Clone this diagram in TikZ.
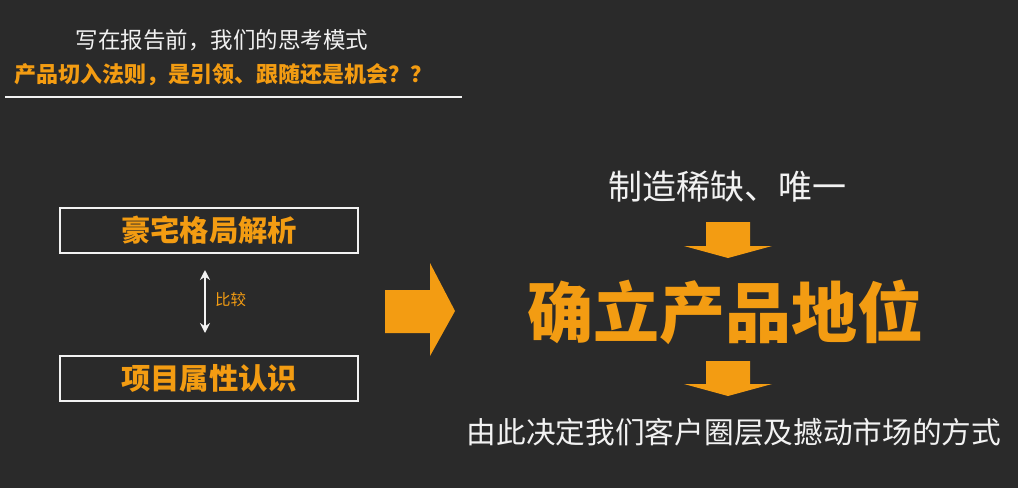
\documentclass[tikz,border=0pt]{standalone}
\usepackage{fontspec}
\newfontfamily\cjk{Noto Sans CJK SC}
\usetikzlibrary{arrows.meta}
\definecolor{bg}{HTML}{2A2A2A}
\definecolor{org}{HTML}{F39C12}
\definecolor{wt}{HTML}{F2F2F2}
\tikzset{
  txt/.style={inner sep=0pt, anchor=center},
  boxed/.style={draw=wt, line width=1.2pt, minimum width=298pt, minimum height=45pt, inner sep=0pt},
  fillarrow/.style={fill=org, draw=none},
}
\begin{document}
\begin{tikzpicture}[x=1pt,y=-1pt]
\fill[bg] (0,0) rectangle (1018,488);
\useasboundingbox (0,0) rectangle (1018,488);
% header
\node[txt, text=wt, font=\cjk\fontsize{22.5}{24}\selectfont] (t1) at (222,40) {写在报告前，我们的思考模式};
\node[txt, text=org, font=\cjk\bfseries\fontsize{22}{24}\selectfont] (t2) at (224,75) {产品切入法则，是引领、跟随还是机会？？};
\coordinate (l1) at (5,97);
\coordinate (l2) at (462,97);
\draw[wt, line width=1.3pt] (l1) -- (l2);
% left boxes
\node[boxed] (b1) at (209,230.5) {};
\node[txt, text=org, font=\cjk\bfseries\fontsize{29.3}{32}\selectfont] at (b1) {豪宅格局解析};
\node[boxed] (b2) at (209,378.5) {};
\node[txt, text=org, font=\cjk\bfseries\fontsize{29.3}{32}\selectfont] at (b2) {项目属性认识};
\coordinate (a1) at (205,270);
\coordinate (a2) at (205,333);
\draw[wt, line width=1.8pt, {Stealth[length=10pt,width=10pt]}-{Stealth[length=10pt,width=10pt]}] (a1) -- (a2);
\node[txt, text=org, font=\cjk\fontsize{15.5}{18}\selectfont, anchor=west] (cmp) at (215,300) {比较};
% big right arrow
\fill[fillarrow] (385,290) -- (430,290) -- (430,263) -- (455,311) -- (430,356) -- (430,333) -- (385,333) -- cycle;
% right side
\node[txt, text=wt, font=\cjk\fontsize{34}{36}\selectfont] (r1) at (727,187) {制造稀缺、唯一};
\fill[fillarrow] (706,222) -- (750,222) -- (750,246) -- (772,246) -- (728,258) -- (684,246) -- (706,246) -- cycle;
\node[txt, text=org, font=\cjk\bfseries\fontsize{66}{72}\selectfont] (main) at (725,312) {确立产品地位};
\fill[fillarrow] (706,361) -- (750,361) -- (750,384) -- (772,384) -- (728,396) -- (684,384) -- (706,384) -- cycle;
\node[txt, text=wt, font=\cjk\fontsize{29.7}{32}\selectfont] (r3) at (734,432) {由此决定我们客户圈层及撼动市场的方式};
\end{tikzpicture}
\end{document}
